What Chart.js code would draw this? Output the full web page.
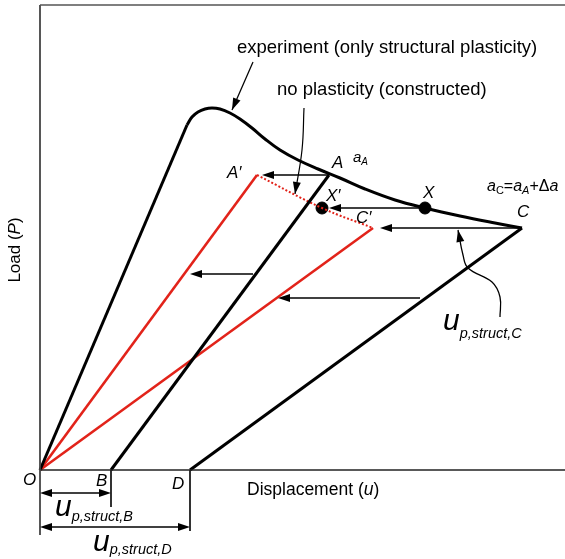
<!DOCTYPE html>
<html>
<head>
<meta charset="utf-8">
<script src="https://cdn.jsdelivr.net/npm/chart.js@4/dist/chart.umd.min.js"></script>
<style>
  html, body { margin: 0; padding: 0; background: #fff; }
</style>
</head>
<body>
<canvas id="loadChart" width="565" height="559"></canvas>
<script>
// Load-displacement schematic, units are arbitrary (u, P)
const expLoadU = [0, 147];
const expLoadP = [0, 345];
const expSoftU = [147, 152, 158, 165, 172, 180, 190, 200, 212, 225, 240, 258, 278, 300, 325, 355, 385, 420, 455, 482];
const expSoftP = [345, 353, 358, 361, 362, 361, 357, 351, 342, 331, 320, 310, 301, 292, 281, 270, 262, 254, 247, 242];
const unloadAU = [71, 289];
const unloadAP = [0, 295];
const unloadCU = [150, 482];
const unloadCP = [0, 242];
const elasticAU = [0, 217];
const elasticAP = [0, 295];
const elasticCU = [0, 333];
const elasticCP = [0, 242];
const noPlastU = [217, 282, 333];
const noPlastP = [295, 262, 242];
const markU = [385, 282];   // X, X'
const markP = [262, 262];

// horizontal shift arrows
const shiftFromU = [289, 385, 482, 213, 380];
const shiftToU = [222, 289, 340, 150, 238];
const shiftP = [295, 262, 242, 196, 172];

// leaders from the text notes
const leadExpU = [213, 192];
const leadExpP = [408, 360];
const leadNoPlU = [264, 262, 255];
const leadNoPlP = [362, 320, 276];
const leadCU = [460, 460, 452, 428, 423, 418];
const leadCP = [153, 173, 188, 202, 215, 240];

// plastic displacement dimensions below the axis
const extU = [0, 71, 150];
const extP = [-65, -37, -61];
const dimToU = [71, 150];
const dimP = [-23, -57];

const uMax = 525;
const pMax = 465;

const RED = '#e2231a';
const FONT = "Arial, 'Liberation Sans', sans-serif";

function pts(us, ps) {
    return us.map((u, i) => ({ x: u, y: ps[i] }));
}

function lineSet(data, color, width, extra) {
    return Object.assign({
        data: data,
        showLine: true,
        borderColor: color,
        backgroundColor: color,
        borderWidth: width,
        pointRadius: 0,
        pointHoverRadius: 0,
        fill: false
    }, extra || {});
}

const datasets = [
    // frame
    lineSet([{ x: 0, y: pMax }, { x: uMax, y: pMax }], '#555', 1.6),
    lineSet([{ x: 0, y: extP[0] }, { x: 0, y: pMax }], '#444', 1.8),
    lineSet([{ x: 0, y: 0 }, { x: uMax, y: 0 }], '#222', 1.4),
    // curves
    lineSet(pts(expLoadU, expLoadP), '#000', 3),
    lineSet(pts(expSoftU, expSoftP), '#000', 3, { tension: 0.4 }),
    lineSet(pts(unloadAU, unloadAP), '#000', 3),
    lineSet(pts(unloadCU, unloadCP), '#000', 3),
    lineSet(pts(elasticAU, elasticAP), RED, 2.6),
    lineSet(pts(elasticCU, elasticCP), RED, 2.6),
    lineSet(pts(noPlastU, noPlastP), RED, 2, { tension: 0.4, borderDash: [2, 2] }),
    // leaders
    lineSet(pts(leadExpU, leadExpP), '#000', 1.2),
    lineSet(pts(leadNoPlU, leadNoPlP), '#000', 1.2, { tension: 0.4 }),
    lineSet(pts(leadCU, leadCP), '#000', 1.3, { tension: 0.4 }),
    // markers X and X'
    { data: pts(markU, markP), showLine: false, pointRadius: 6, pointHoverRadius: 6,
      backgroundColor: '#000', borderColor: '#000' }
];
extU.forEach((u, i) => {
    if (i > 0) datasets.push(lineSet([{ x: u, y: 0 }, { x: u, y: extP[i] }], '#000', 1.6));
});

function arrowHead(ctx, x1, y1, x2, y2, len, half) {
    const a = Math.atan2(y2 - y1, x2 - x1);
    const c = Math.cos(a), s = Math.sin(a);
    ctx.beginPath();
    ctx.moveTo(x2, y2);
    ctx.lineTo(x2 - len * c + half * s, y2 - len * s - half * c);
    ctx.lineTo(x2 - len * c - half * s, y2 - len * s + half * c);
    ctx.closePath();
    ctx.fill();
}

function arrow(ctx, x1, y1, x2, y2, both) {
    const a = Math.atan2(y2 - y1, x2 - x1);
    const len = 12, back = 9;
    let sx = x1, sy = y1;
    if (both) {
        sx = x1 + back * Math.cos(a);
        sy = y1 + back * Math.sin(a);
    }
    ctx.beginPath();
    ctx.moveTo(sx, sy);
    ctx.lineTo(x2 - back * Math.cos(a), y2 - back * Math.sin(a));
    ctx.stroke();
    arrowHead(ctx, x1, y1, x2, y2, len, 4);
    if (both) arrowHead(ctx, x2, y2, x1, y1, len, 4);
}

// text runs: [text, size, italic, dy]
function drawRuns(ctx, x, y, runs) {
    runs.forEach(r => {
        ctx.font = (r[2] ? 'italic ' : '') + r[1] + 'px ' + FONT;
        ctx.fillText(r[0], x, y + (r[3] || 0));
        x += ctx.measureText(r[0]).width;
    });
}

function runsWidth(ctx, runs) {
    let w = 0;
    runs.forEach(r => {
        ctx.font = (r[2] ? 'italic ' : '') + r[1] + 'px ' + FONT;
        w += ctx.measureText(r[0]).width;
    });
    return w;
}

const notes = [
    { u: 197, p: 422, runs: [['experiment (only structural plasticity)', 18.5]] },
    { u: 237, p: 380, runs: [['no plasticity (constructed)', 18.5]] },
    { u: 207, p: -20, runs: [['Displacement (', 17.5], ['u', 17.5, true], [')', 17.5]] },
    { u: -17, p: -10, runs: [['O', 17, true]] },
    { u: 56, p: -11, runs: [['B', 17, true]] },
    { u: 132, p: -14, runs: [['D', 17, true]] },
    { u: 292, p: 307, runs: [['A', 17, true]] },
    { u: 313, p: 312, runs: [['a', 15, true], ['A', 10, true, 4]] },
    { u: 187, p: 297, runs: [['A\u2032', 17, true]] },
    { u: 286, p: 274, runs: [['X\u2032', 17, true]] },
    { u: 316, p: 252, runs: [['C\u2032', 17, true]] },
    { u: 383, p: 277, runs: [['X', 17, true]] },
    { u: 477, p: 258, runs: [['C', 17, true]] },
    { u: 447, p: 283, runs: [['a', 16, true], ['C', 11, false, 4], ['=', 16], ['a', 16, true],
                            ['A', 11, true, 4], ['+', 16], ['\u0394', 16], ['a', 16, true]] },
    { u: 403, p: 148, runs: [['u', 30, true], ['p,struct,C', 14.5, true, 12]] },
    { u: 15, p: -38, runs: [['u', 30, true], ['p,struct,B', 14.5, true, 9]] },
    { u: 53, p: -73, runs: [['u', 30, true], ['p,struct,D', 14.5, true, 7]] }
];

const annotate = {
    id: 'annotate',
    afterDatasetsDraw(chart) {
        const ctx = chart.ctx;
        const xs = chart.scales.x, ys = chart.scales.y;
        const X = u => xs.getPixelForValue(u);
        const Y = p => ys.getPixelForValue(p);
        ctx.save();
        ctx.strokeStyle = '#000';
        ctx.fillStyle = '#000';
        ctx.lineWidth = 1.3;

        shiftP.forEach((p, i) => arrow(ctx, X(shiftFromU[i]), Y(p), X(shiftToU[i]), Y(p), false));
        dimP.forEach((p, i) => arrow(ctx, X(0), Y(p), X(dimToU[i]), Y(p), true));

        const lastTwo = (us, ps) => {
            const n = us.length;
            arrowHead(ctx, X(us[n - 2]), Y(ps[n - 2]), X(us[n - 1]), Y(ps[n - 1]), 12, 4);
        };
        lastTwo(leadExpU, leadExpP);
        lastTwo(leadNoPlU, leadNoPlP);
        lastTwo(leadCU, leadCP);

        ctx.textBaseline = 'middle';
        ctx.textAlign = 'left';
        notes.forEach(n => drawRuns(ctx, X(n.u), Y(n.p), n.runs));

        // y axis title, rotated
        const yRuns = [['Load (', 17], ['P', 17, true], [')', 17]];
        ctx.translate(X(-25), Y(220));
        ctx.rotate(-Math.PI / 2);
        drawRuns(ctx, -runsWidth(ctx, yRuns) / 2, 0, yRuns);
        ctx.restore();
    }
};

new Chart(document.getElementById('loadChart').getContext('2d'), {
    type: 'scatter',
    data: { datasets: datasets },
    options: {
        responsive: false,
        animation: false,
        layout: { padding: 0, autoPadding: false },
        plugins: { legend: { display: false }, tooltip: { enabled: false } },
        scales: {
            x: { type: 'linear', display: false, min: -40, max: uMax },
            y: { type: 'linear', display: false, min: -89, max: 470 }
        }
    },
    plugins: [annotate]
});
</script>
</body>
</html>
